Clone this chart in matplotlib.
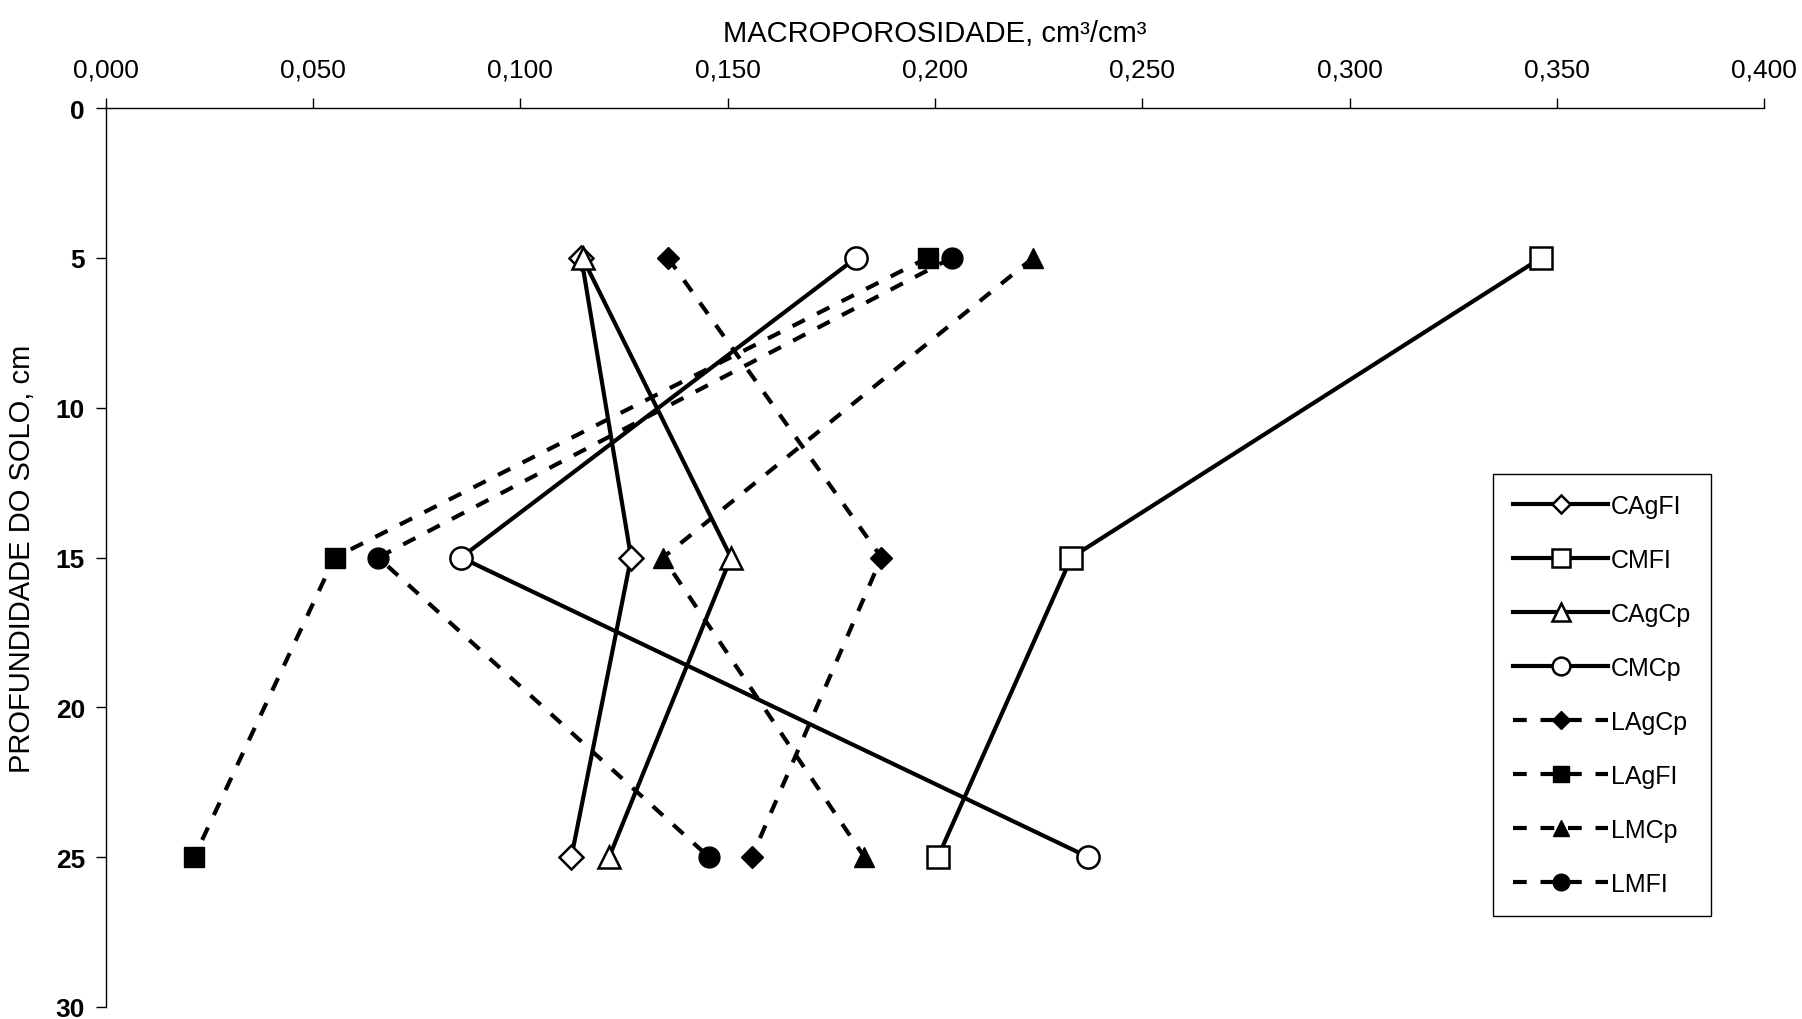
import numpy as np
import matplotlib.pyplot as plt
from matplotlib.ticker import FuncFormatter

plt.rcParams['font.family'] = ['Liberation Sans', 'DejaVu Sans']

# Profundidade (cm) e macroporosidade (cm3/cm3)
prof = [5, 15, 25]
CAgFI = [0.1147, 0.1267, 0.1123]
CMFI = [0.3462, 0.2329, 0.2007]
CAgCp = [0.1150, 0.1508, 0.1214]
CMCp = [0.1810, 0.0857, 0.2370]
LAgCp = [0.1356, 0.1871, 0.1558]
LAgFI = [0.1982, 0.0552, 0.0213]
LMCp = [0.2237, 0.1344, 0.1830]
LMFI = [0.2040, 0.0657, 0.1455]

x_ticks = [0.0, 0.05, 0.10, 0.15, 0.20, 0.25, 0.30, 0.35, 0.40]
y_ticks = [0, 5, 10, 15, 20, 25, 30]

fig = plt.figure(figsize=(18.02, 10.20), dpi=100)
ax = fig.add_axes([0.0587, 0.0118, 0.9203, 0.8813])

solid = dict(color='black', lw=3.0, ls='-', markersize=16, markeredgewidth=1.8,
             markerfacecolor='white', markeredgecolor='black')
dashed = dict(color='black', lw=3.0, ls=(0, (3.3, 3.3)), markersize=15,
              markerfacecolor='black', markeredgecolor='black')

ax.plot(CAgFI, prof, marker='D', label='CAgFI', **{**solid, 'markersize': 12})
ax.plot(CMFI, prof, marker='s', label='CMFI', **solid)
ax.plot(CAgCp, prof, marker='^', label='CAgCp', **solid)
ax.plot(CMCp, prof, marker='o', label='CMCp', **solid)
ax.plot(LAgCp, prof, marker='D', label='LAgCp', **{**dashed, 'markersize': 11})
ax.plot(LAgFI, prof, marker='s', label='LAgFI', **dashed)
ax.plot(LMCp, prof, marker='^', label='LMCp', **dashed)
ax.plot(LMFI, prof, marker='o', label='LMFI', **dashed)

ax.set_xlim(0, 0.4)
ax.set_ylim(30, 0)
ax.set_xticks(x_ticks)
ax.set_yticks(y_ticks)
ax.xaxis.set_major_formatter(FuncFormatter(lambda v, p: f'{v:.3f}'.replace('.', ',')))
ax.xaxis.tick_top()
ax.xaxis.set_label_position('top')
ax.tick_params(axis='x', direction='out', length=7, width=1, labelsize=19, pad=12)
ax.tick_params(axis='y', direction='out', length=7, width=1, labelsize=19, pad=8)
for lab in ax.get_yticklabels():
    lab.set_fontweight('bold')
ax.spines['right'].set_visible(False)
ax.spines['bottom'].set_visible(False)
ax.spines['top'].set_linewidth(1)
ax.spines['left'].set_linewidth(1)

ax.set_xlabel('MACROPOROSIDADE, cm³/cm³', fontsize=21, labelpad=12)
ax.set_ylabel('PROFUNDIDADE DO SOLO, cm', fontsize=21, labelpad=14)

leg = ax.legend(loc='upper left', bbox_to_anchor=(0.8366, 0.593), fontsize=18,
                frameon=True, fancybox=False, edgecolor='black', framealpha=1,
                labelspacing=1.2, handlelength=3.8, handletextpad=0.1,
                borderpad=0.8, borderaxespad=0, markerscale=0.8)
leg.get_frame().set_linewidth(1)

fig.savefig('out.png', dpi=100)
